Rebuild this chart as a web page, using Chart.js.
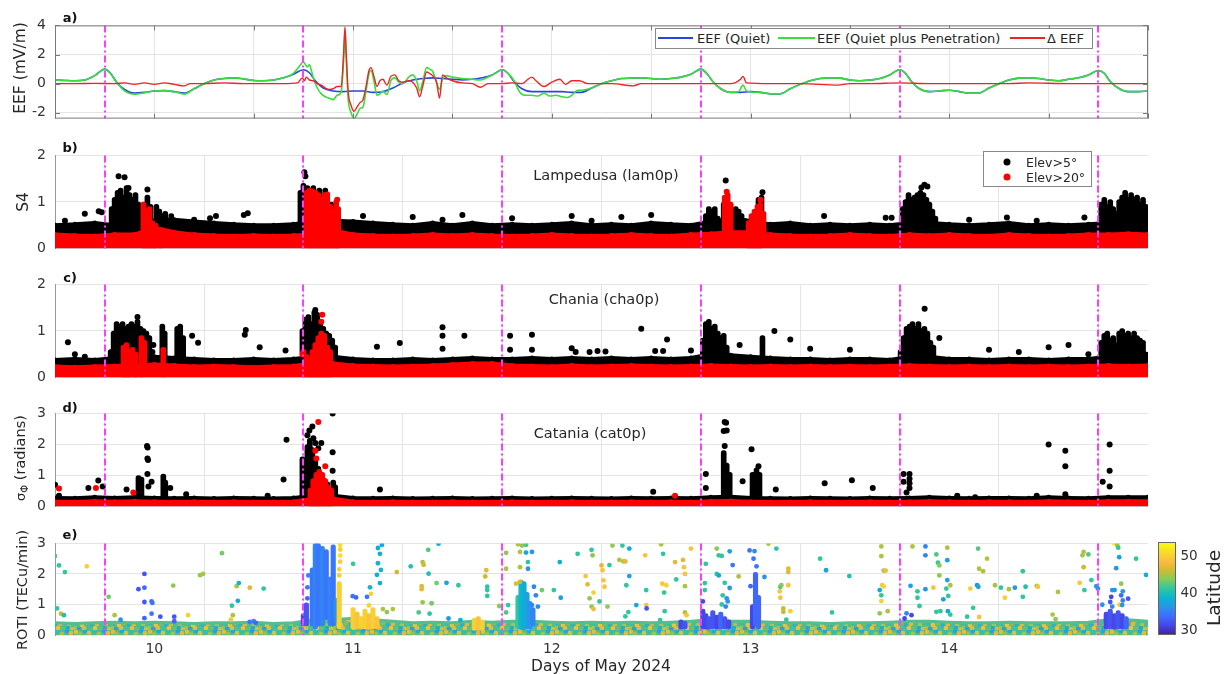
<!DOCTYPE html>
<html>
<head>
<meta charset="utf-8">
<script src="https://cdn.jsdelivr.net/npm/chart.js@4.4.1/dist/chart.umd.min.js"></script>
<style>
body { margin: 0; background: #fff; font-family: "DejaVu Sans", sans-serif; }
#wrap { position: relative; width: 1231px; height: 674px; overflow: hidden; }
#wrap canvas { position: absolute; left: 0; }
.lbl { position: absolute; white-space: nowrap; color: #262626; transform: translate(-50%, -50%); z-index: 5; }
.left { transform: translate(0, -50%); }
.rot { transform: translate(-50%, -50%) rotate(-90deg); }
.box { position: absolute; border: 1px solid #888; background: #fff; z-index: 4; }
.swatch { position: absolute; height: 0; border-top: 2px solid; z-index: 5; }
.dot { position: absolute; width: 7px; height: 7px; border-radius: 50%; transform: translate(-50%, -50%); z-index: 5; }
</style>
</head>
<body>
<div id="wrap"></div>
<script>
// ---------- shared axis data ----------
const gridDays = [9.5, 10, 10.5, 11, 11.5, 12, 12.5, 13, 13.5, 14, 14.5, 15];
const labelDays = [10, 11, 12, 13, 14];
const stormDays = [9.75, 10.75, 11.75, 12.75, 13.75, 14.75];
const bandDays = [9.5,9.6,9.7,9.8,9.9,10.0,10.1,10.2,10.3,10.4,10.5,10.6,10.7,10.8,10.9,11.0,11.1,11.2,11.3,11.4,11.5,11.6,11.7,11.8,11.9,12.0,12.1,12.2,12.3,12.4,12.5,12.6,12.7,12.8,12.9,13.0,13.1,13.2,13.3,13.4,13.5,13.6,13.7,13.8,13.9,14.0,14.1,14.2,14.3,14.4,14.5,14.6,14.7,14.8,14.9,15.0];

// ---------- panel a: EEF ----------
const eefTicks = [-2, 0, 2, 4];
const quietDays = [9.5,9.55,9.6,9.65,9.7,9.75,9.78,9.81,9.85,9.9,9.95,10,10.05,10.1,10.15,10.2,10.25,10.3,10.35,10.4,10.45,10.5,10.55,10.6,10.65,10.7,10.75,10.78,10.81,10.85,10.9,10.95,11,11.05,11.1,11.15,11.2,11.25,11.3,11.35,11.4,11.45,11.5,11.55,11.6,11.65,11.7,11.75,11.78,11.81,11.85,11.9,11.95,12,12.05,12.1,12.15,12.2,12.25,12.3,12.35,12.4,12.45,12.5,12.55,12.6,12.65,12.7,12.75,12.78,12.81,12.85,12.9,12.95,13,13.05,13.1,13.15,13.2,13.25,13.3,13.35,13.4,13.45,13.5,13.55,13.6,13.65,13.7,13.75,13.78,13.81,13.85,13.9,13.95,14,14.05,14.1,14.15,14.2,14.25,14.3,14.35,14.4,14.45,14.5,14.55,14.6,14.65,14.7,14.75,14.78,14.81,14.85,14.9,14.95,15];
const quietEEF = [0.25,0.22,0.2,0.25,0.55,1.0,0.7,0.1,-0.4,-0.65,-0.6,-0.5,-0.48,-0.55,-0.65,-0.35,0,0.25,0.35,0.4,0.32,0.22,0.2,0.25,0.4,0.65,0.95,0.75,0.2,-0.3,-0.5,-0.55,-0.5,-0.5,-0.6,-0.55,-0.3,0.05,0.25,0.35,0.4,0.35,0.3,0.25,0.3,0.4,0.6,0.95,0.7,0.15,-0.35,-0.55,-0.55,-0.55,-0.55,-0.6,-0.6,-0.3,0,0.2,0.35,0.38,0.4,0.35,0.3,0.35,0.45,0.65,1.0,0.7,0.15,-0.35,-0.6,-0.6,-0.55,-0.6,-0.7,-0.7,-0.35,-0.05,0.2,0.35,0.4,0.38,0.25,0.2,0.25,0.35,0.6,0.95,0.7,0.15,-0.35,-0.55,-0.5,-0.45,-0.55,-0.65,-0.65,-0.3,0,0.25,0.38,0.4,0.35,0.25,0.2,0.3,0.4,0.6,0.9,0.7,0.15,-0.3,-0.55,-0.55,-0.5];
const ppefDays = [9.5,9.55,9.6,9.65,9.7,9.75,9.78,9.81,9.85,9.9,9.95,10,10.05,10.1,10.15,10.2,10.25,10.3,10.35,10.4,10.45,10.5,10.55,10.6,10.65,10.7,10.73,10.75,10.76,10.77,10.78,10.79,10.8,10.82,10.84,10.86,10.88,10.9,10.92,10.94,10.952,10.959,10.966,10.975,10.99,11.005,11.02,11.035,11.05,11.065,11.08,11.09,11.105,11.12,11.135,11.15,11.17,11.19,11.21,11.23,11.25,11.28,11.3,11.32,11.335,11.35,11.37,11.385,11.4,11.42,11.435,11.45,11.47,11.5,11.55,11.6,11.64,11.68,11.72,11.75,11.78,11.81,11.84,11.87,11.9,11.93,11.96,11.99,12.02,12.05,12.08,12.1,12.13,12.15,12.2,12.25,12.3,12.35,12.4,12.45,12.5,12.55,12.6,12.65,12.7,12.75,12.78,12.81,12.85,12.9,12.94,12.962,12.98,13.05,13.1,13.15,13.2,13.25,13.3,13.35,13.4,13.45,13.5,13.55,13.6,13.65,13.7,13.75,13.78,13.81,13.85,13.9,13.95,14,14.05,14.1,14.15,14.2,14.25,14.3,14.35,14.4,14.45,14.5,14.55,14.6,14.65,14.7,14.75,14.78,14.81,14.85,14.9,14.95,15];
const ppefEEF = [0.25,0.22,0.2,0.25,0.55,1.0,0.7,0.1,-0.5,-0.72,-0.62,-0.5,-0.48,-0.55,-0.72,-0.35,0,0.25,0.35,0.4,0.32,0.22,0.2,0.25,0.4,0.7,1.2,1.5,1.3,1.15,1.3,0.9,0.4,-0.3,-0.7,-0.9,-1.0,-1.1,-0.8,-0.6,1.5,3.4,1.5,-1.0,-2.0,-2.4,-2.1,-1.7,-1.6,-0.5,0.7,0.9,0.2,-0.8,-0.7,-0.5,-0.75,0.2,0.4,0.1,0,0.45,0.6,0.2,-0.5,0.1,1.1,1.0,0.85,0.1,-0.4,0.3,0.55,0.45,0.35,0.3,0.25,0.45,0.75,0.95,0.7,0.2,-0.6,-0.8,-0.8,-0.85,-0.65,-0.85,-0.8,-0.9,-0.95,-0.8,-0.45,-0.45,-0.3,0,0.2,0.35,0.38,0.4,0.35,0.3,0.35,0.45,0.65,1.0,0.7,0.15,-0.35,-0.6,-0.55,-0.1,-0.5,-0.6,-0.7,-0.7,-0.35,-0.05,0.2,0.35,0.4,0.38,0.25,0.2,0.25,0.35,0.6,0.95,0.7,0.15,-0.35,-0.55,-0.5,-0.45,-0.55,-0.65,-0.65,-0.3,0,0.25,0.38,0.4,0.35,0.25,0.2,0.3,0.4,0.6,0.9,0.7,0.15,-0.3,-0.55,-0.55,-0.5];
const deltaDays = [9.5,9.6,9.7,9.8,9.85,9.9,9.95,10,10.05,10.1,10.15,10.18,10.25,10.35,10.45,10.55,10.65,10.72,10.745,10.755,10.765,10.78,10.8,10.82,10.84,10.86,10.88,10.9,10.92,10.94,10.952,10.959,10.966,10.975,10.99,11.005,11.02,11.035,11.05,11.065,11.08,11.09,11.105,11.12,11.135,11.15,11.17,11.19,11.21,11.23,11.25,11.28,11.3,11.32,11.335,11.35,11.37,11.385,11.4,11.42,11.435,11.45,11.47,11.5,11.55,11.6,11.64,11.68,11.75,11.8,11.85,11.88,11.9,11.92,11.96,12,12.04,12.07,12.1,12.14,12.18,12.3,12.41,12.45,12.6,12.75,12.9,12.95,12.962,12.98,13.1,13.25,13.44,13.5,13.6,13.75,13.9,14.1,14.3,14.4,14.6,14.75,15];
const deltaEEF = [0,0,0.02,0,0.05,-0.05,0.05,-0.05,0.05,-0.05,-0.15,0,0,0.05,0,0,0,0.05,0.4,0.2,0.45,0.25,0.2,0,-0.1,-0.3,-0.4,-0.35,-0.2,-0.2,2.0,3.9,2.0,-0.5,-1.5,-1.9,-1.6,-1.3,-1.1,-0.2,0.9,1.1,0.5,-0.2,0.2,0.3,-0.1,0.5,0.6,0.2,0.1,0.2,0.1,-0.3,-0.9,-0.2,0.8,0.7,0.55,0.1,-1.0,0.6,0.4,0.2,0.05,0,-0.25,0,0,0.05,0,0.3,0.45,0.2,-0.2,0.1,0.3,-0.05,0.2,0.2,0,0,-0.15,0,0,0,0,0.3,0.5,0.05,0,0,-0.1,0,0,0.05,0,0,0,0.05,0,0,0];

// ---------- panel b: S4 Lampedusa ----------
const s4Ticks = [0, 1, 2];
const lamBandHi = [0.5,0.52,0.55,0.5,0.55,0.6,0.62,0.58,0.55,0.52,0.5,0.5,0.52,0.6,0.6,0.58,0.55,0.52,0.5,0.55,0.5,0.55,0.5,0.52,0.5,0.52,0.55,0.5,0.52,0.5,0.55,0.52,0.5,0.58,0.62,0.6,0.52,0.55,0.5,0.52,0.5,0.52,0.5,0.55,0.55,0.52,0.5,0.52,0.55,0.5,0.52,0.5,0.52,0.55,0.55,0.55];
const lamRedHi = [0.3,0.28,0.27,0.3,0.3,0.45,0.35,0.3,0.28,0.27,0.28,0.27,0.28,0.3,0.4,0.3,0.28,0.27,0.28,0.3,0.28,0.3,0.28,0.27,0.28,0.3,0.28,0.27,0.28,0.3,0.28,0.27,0.3,0.32,0.35,0.35,0.3,0.28,0.27,0.28,0.3,0.28,0.27,0.3,0.28,0.3,0.28,0.27,0.3,0.28,0.27,0.28,0.3,0.3,0.32,0.3];
const lamStreaks = [[9.785,0.3,0.9],[9.8,0.3,1.1],[9.815,0.3,1.25],[9.83,0.35,1.3],[9.845,0.3,1.15],[9.86,0.3,1.35],[9.875,0.3,1.2],[9.89,0.35,1.1],[9.905,0.3,1.2],[9.92,0.3,1.0],[9.935,0.3,0.9],[9.965,0.3,1.15],[9.98,0.5,0.95],[10.01,0.3,0.95],[10.025,0.3,0.85],[10.04,0.3,0.75],[10.055,0.3,0.8],[10.07,0.3,0.65],[10.085,0.3,0.75],[10.1,0.3,0.6],[10.735,0.3,1.25],[10.75,0.3,1.4],[10.77,0.3,1.35],[10.8,0.3,1.35],[10.83,0.3,1.3],[10.86,0.3,1.3],[10.89,0.3,1.0],[10.905,0.3,0.95],[10.92,0.3,0.85],[12.775,0.3,0.75],[12.79,0.3,0.9],[12.805,0.3,0.85],[12.82,0.3,0.9],[12.835,0.3,0.7],[12.865,0.3,1.0],[12.925,0.3,0.9],[12.94,0.3,0.85],[12.955,0.3,0.75],[12.97,0.3,0.65],[13.04,0.3,1.1],[13.055,0.3,1.15],[13.765,0.3,0.9],[13.78,0.3,1.05],[13.795,0.3,1.2],[13.81,0.3,1.1],[13.825,0.3,1.15],[13.84,0.3,1.2],[13.855,0.3,1.25],[13.87,0.3,1.2],[13.885,0.3,1.1],[13.9,0.3,1.0],[13.915,0.3,0.85],[13.93,0.3,0.7],[14.765,0.3,1.0],[14.78,0.3,1.1],[14.795,0.3,0.95],[14.81,0.3,1.05],[14.825,0.3,0.9],[14.84,0.3,0.8],[14.855,0.3,1.05],[14.87,0.3,1.15],[14.885,0.3,1.25],[14.9,0.3,1.1],[14.915,0.3,1.2],[14.93,0.3,1.1],[14.945,0.3,1.15],[14.96,0.3,1.0],[14.975,0.3,1.1],[14.99,0.3,0.95]];
const lamDots = [[9.65,0.75],[9.72,0.8],[9.735,0.78],[9.82,1.55],[9.85,1.53],[9.87,1.3],[9.965,1.27],[10.28,0.65],[10.31,0.7],[10.45,0.72],[10.47,0.76],[10.755,1.64],[10.76,1.55],[12.875,1.46],[13.06,1.21],[13.875,1.37],[13.89,1.33],[13.86,1.31],[11.05,0.7],[11.3,0.68],[11.55,0.72],[11.8,0.65],[12.1,0.7],[12.35,0.68],[12.5,0.72],[13.37,0.7],[13.68,0.66],[13.71,0.66],[14.29,0.67],[14.44,0.6],[14.68,0.67],[9.55,0.6],[10.2,0.62],[11.45,0.62],[12.2,0.6],[14.1,0.62]];
const lamRedStreaks = [[9.945,0,1.0],[9.96,0,0.85],[9.975,0,0.9],[9.99,0,0.6],[10.005,0,0.55],[10.03,0,0.45],[10.765,0,1.25],[10.78,0,1.3],[10.795,0,1.28],[10.81,0,1.25],[10.825,0,1.2],[10.84,0,1.1],[10.855,0,1.2],[10.87,0,1.22],[10.885,0,0.95],[10.9,0,0.85],[10.915,0,1.05],[10.925,0,0.9],[12.87,0.05,1.15],[12.885,0.05,1.2],[12.9,0.1,1.0],[12.99,0,0.6],[13.005,0,0.75],[13.02,0,0.85],[13.035,0,0.95],[13.05,0,1.0],[13.065,0.2,0.8]];
const lamRedDots = [[10.92,1.05],[12.88,1.22],[13.05,1.05]];

// ---------- panel c: S4 Chania ----------
const chaBandHi = [0.38,0.4,0.38,0.42,0.45,0.45,0.42,0.4,0.38,0.38,0.4,0.38,0.4,0.45,0.45,0.4,0.38,0.38,0.4,0.38,0.4,0.42,0.4,0.4,0.42,0.4,0.42,0.4,0.42,0.4,0.42,0.4,0.42,0.5,0.48,0.45,0.42,0.4,0.4,0.38,0.4,0.4,0.38,0.45,0.45,0.4,0.4,0.38,0.4,0.4,0.38,0.4,0.4,0.45,0.45,0.45];
const chaRedHi = [0.24,0.22,0.24,0.25,0.26,0.28,0.26,0.24,0.25,0.24,0.22,0.24,0.25,0.3,0.3,0.26,0.25,0.24,0.25,0.26,0.28,0.3,0.3,0.26,0.25,0.24,0.26,0.24,0.25,0.26,0.25,0.24,0.25,0.26,0.25,0.24,0.25,0.24,0.25,0.24,0.25,0.24,0.25,0.26,0.25,0.24,0.25,0.24,0.25,0.24,0.25,0.24,0.25,0.26,0.25,0.26];
const chaStreaks = [[9.78,0.25,0.6],[9.795,0.25,1.0],[9.81,0.25,1.2],[9.825,0.25,1.15],[9.84,0.25,1.2],[9.855,0.25,1.1],[9.87,0.25,1.15],[9.885,0.25,1.2],[9.9,0.25,1.15],[9.915,0.25,1.25],[9.93,0.25,1.1],[9.945,0.25,1.05],[9.96,0.25,1.0],[9.975,0.25,0.9],[10.04,0.25,1.15],[10.052,0.3,1.0],[10.115,0.25,1.1],[10.13,0.25,1.15],[10.145,0.3,0.9],[10.745,0.5,1.05],[10.76,0.3,1.3],[10.775,0.3,1.35],[10.79,0.3,1.2],[10.805,0.3,1.45],[10.82,0.3,1.4],[10.835,0.3,1.2],[10.85,0.3,1.1],[10.865,0.3,1.0],[10.88,0.3,0.95],[10.895,0.3,0.85],[10.91,0.3,0.7],[12.76,0.3,0.85],[12.775,0.3,1.2],[12.79,0.3,1.25],[12.805,0.3,1.1],[12.82,0.3,1.15],[12.835,0.3,1.0],[12.85,0.3,0.9],[12.865,0.3,0.95],[12.88,0.3,0.7],[13.06,0.3,0.9],[13.755,0.3,0.6],[13.77,0.3,0.9],[13.785,0.3,1.1],[13.8,0.3,1.15],[13.815,0.3,1.2],[13.83,0.3,1.1],[13.845,0.3,1.2],[13.86,0.3,1.05],[13.875,0.3,1.1],[13.89,0.3,1.0],[13.905,0.3,0.8],[13.92,0.3,0.7],[14.765,0.3,0.8],[14.78,0.3,0.95],[14.795,0.3,1.0],[14.81,0.3,0.85],[14.825,0.3,0.9],[14.84,0.3,0.75],[14.855,0.3,1.0],[14.87,0.3,1.05],[14.885,0.3,0.95],[14.9,0.3,1.0],[14.915,0.3,0.9],[14.93,0.3,1.0],[14.945,0.3,0.9],[14.96,0.3,0.85],[14.975,0.3,0.8],[14.99,0.3,0.55]];
const chaDots = [[9.565,0.76],[9.6,0.5],[9.65,0.45],[9.915,1.3],[9.995,0.7],[9.99,0.55],[10.19,0.9],[10.22,0.75],[10.46,1.02],[10.455,0.92],[10.53,0.65],[10.66,0.58],[10.81,1.45],[11.12,0.66],[11.235,0.74],[11.45,1.08],[11.45,0.9],[11.45,0.62],[11.56,0.9],[11.79,0.9],[11.9,0.92],[11.79,0.6],[11.9,0.6],[12.1,0.63],[12.12,0.55],[12.19,0.55],[12.23,0.57],[12.27,0.56],[12.45,1.05],[12.58,0.82],[12.52,0.57],[12.56,0.57],[12.7,0.58],[12.945,0.7],[13.12,1.0],[13.2,0.82],[13.876,1.48],[13.95,0.85],[13.3,0.62],[13.5,0.6],[14.2,0.6],[14.35,0.55],[14.5,0.65],[14.6,0.7],[14.7,0.5]];
const chaRedStreaks = [[9.845,0,0.7],[9.86,0,0.75],[9.875,0,0.6],[9.89,0.2,0.65],[9.905,0,0.55],[9.935,0,0.9],[9.95,0.3,0.8],[10.045,0,0.65],[10.765,0,0.5],[10.78,0,0.45],[10.795,0,0.6],[10.81,0,0.75],[10.825,0,0.9],[10.84,0,1.0],[10.855,0,0.95],[10.87,0,0.7],[10.885,0,0.6]];
const chaRedDots = [[10.75,0.55],[10.745,0.5],[10.845,1.35],[10.84,1.2]];

// ---------- panel d: sigma phi Catania ----------
const sigTicks = [0, 1, 2, 3];
const catBandHi = [0.28,0.27,0.3,0.28,0.3,0.28,0.27,0.28,0.26,0.28,0.27,0.26,0.28,0.35,0.35,0.28,0.27,0.28,0.26,0.27,0.28,0.26,0.27,0.28,0.26,0.27,0.28,0.27,0.26,0.28,0.27,0.28,0.27,0.3,0.32,0.28,0.27,0.26,0.28,0.27,0.26,0.28,0.27,0.28,0.3,0.28,0.27,0.28,0.28,0.27,0.3,0.28,0.27,0.3,0.3,0.3];
const catRedHi = [0.16,0.15,0.17,0.16,0.17,0.16,0.15,0.16,0.15,0.16,0.15,0.15,0.16,0.25,0.25,0.16,0.15,0.16,0.15,0.15,0.16,0.15,0.15,0.16,0.15,0.15,0.16,0.15,0.15,0.16,0.15,0.16,0.15,0.17,0.18,0.16,0.15,0.15,0.16,0.15,0.15,0.16,0.15,0.16,0.17,0.16,0.15,0.16,0.16,0.15,0.17,0.16,0.15,0.17,0.17,0.17];
const catStreaks = [[9.92,0.2,1.0],[9.935,0.2,0.95],[10.045,0.2,1.05],[10.055,0.2,0.85],[10.745,0.2,1.6],[10.757,0.3,1.3],[10.77,0.2,2.0],[10.782,0.3,2.2],[10.795,0.3,1.9],[10.81,0.3,1.6],[10.825,0.3,1.3],[10.84,0.3,1.1],[10.855,0.3,0.9],[10.87,0.3,0.8],[10.9,0.2,0.85],[10.91,0.2,0.7],[12.865,0.2,1.8],[12.88,0.2,1.4],[12.895,0.2,1.1],[13.01,0.2,1.1],[13.03,0.2,1.25],[13.045,0.2,1.1]];
const catDots = [[9.5,0.7],[9.52,0.35],[9.668,0.6],[9.718,0.84],[9.74,0.65],[9.86,0.55],[9.963,1.95],[9.966,1.9],[9.965,1.55],[9.968,1.5],[9.965,1.05],[9.97,0.65],[9.986,0.8],[10.08,0.6],[10.16,0.4],[10.57,0.35],[10.65,0.87],[10.665,2.15],[10.77,2.3],[10.78,2.45],[10.795,2.58],[10.8,2.2],[10.81,2.05],[10.825,1.88],[10.84,2.05],[10.897,3.0],[10.897,1.75],[10.897,1.15],[11.135,0.55],[12.51,0.48],[12.775,1.05],[12.775,0.6],[12.87,2.72],[12.877,2.7],[12.865,2.43],[12.88,2.45],[12.87,1.95],[12.96,0.82],[13.005,1.85],[13.04,1.3],[13.127,0.55],[13.373,0.75],[13.51,0.85],[13.615,0.6],[13.77,1.05],[13.77,0.8],[13.8,1.05],[13.8,0.9],[13.8,0.75],[13.8,0.6],[13.785,0.45],[14.04,0.35],[14.13,0.3],[14.44,0.35],[14.5,2.0],[14.584,1.8],[14.584,1.3],[14.584,0.4],[14.772,0.8],[14.807,2.0],[14.807,1.15],[14.807,0.65]];
const catRedStreaks = [[10.785,0,0.6],[10.8,0,0.9],[10.815,0,1.1],[10.83,0,1.2],[10.845,0,1.1],[10.86,0,0.9],[10.875,0,0.7],[10.89,0,0.6]];
const catRedDots = [[9.52,0.58],[9.706,0.6],[9.894,0.45],[10.825,2.72],[10.81,1.8],[10.815,1.55],[10.86,1.3],[12.62,0.35]];

// ---------- panel e: ROTI ----------
const rotiTicks = [0, 1, 2, 3];
const latTicks = [30, 40, 50];
const latMin = 28.6, latMax = 53.5;
const rotiBandHi = [0.4,0.38,0.4,0.42,0.4,0.42,0.4,0.38,0.4,0.4,0.42,0.38,0.4,0.5,0.5,0.55,0.5,0.45,0.4,0.42,0.4,0.45,0.42,0.45,0.45,0.42,0.4,0.42,0.4,0.42,0.4,0.42,0.45,0.5,0.45,0.45,0.42,0.4,0.4,0.38,0.4,0.4,0.42,0.45,0.45,0.42,0.4,0.4,0.42,0.4,0.4,0.4,0.42,0.5,0.5,0.45];
// [day, lo, hi, latitude]
const rotiStreaks = [[10.75,0.3,0.7,31],[10.765,0.3,1.05,32],[10.795,0.3,2.2,34],[10.81,0.2,3.0,35],[10.825,0.3,3.0,34],[10.845,0.3,2.9,35],[10.865,0.5,2.8,34],[10.885,0.3,1.9,35],[10.9,0.3,2.95,34],[10.915,0.4,1.2,36],[10.93,0.2,1.75,50],[11.0,0.2,0.9,50],[11.02,0.2,0.75,49],[11.04,0.2,0.6,50],[11.06,0.2,0.85,50],[11.08,0.2,0.7,49],[11.1,0.2,0.9,50],[11.12,0.2,0.6,49],[11.61,0.15,0.55,50],[11.63,0.15,0.6,49],[11.65,0.15,0.5,50],[11.83,0.2,1.3,41],[11.845,0.2,1.8,39],[11.86,0.2,1.75,38],[11.875,0.2,1.4,37],[11.89,0.2,1.1,36],[11.905,0.3,0.9,35],[12.65,0.2,0.5,31],[12.67,0.2,0.45,32],[12.76,0.2,0.85,31],[12.775,0.2,0.7,31],[12.79,0.2,0.6,32],[12.81,0.2,0.8,32],[12.83,0.2,0.65,31],[12.85,0.2,0.75,33],[12.87,0.2,0.6,32],[12.89,0.2,0.5,31],[13.01,0.2,1.0,31],[13.025,0.3,2.05,33],[13.04,0.2,1.3,33],[14.79,0.2,0.75,31],[14.81,0.2,0.85,32],[14.83,0.2,0.7,31],[14.85,0.2,0.8,32],[14.87,0.2,0.7,31],[14.89,0.2,0.6,33]];
// [day, ROTI, latitude]
const rotiPoints = [[9.5,2.59,42],[9.52,2.28,41],[9.55,2.06,41],[9.66,2.25,50],[9.51,0.87,41],[9.53,0.7,46],[9.545,0.65,40],[9.77,1.25,43],[9.8,0.65,45],[9.83,0.5,36],[9.92,1.5,32],[9.95,2.0,32],[9.95,1.55,33],[9.95,1.08,32],[9.986,1.1,33],[9.99,1.05,34],[9.986,0.7,34],[9.95,0.55,33],[10.03,0.6,32],[10.1,0.6,32],[10.1,0.45,33],[10.095,1.62,44],[10.17,0.65,50],[10.23,1.96,44],[10.245,2.0,45],[10.34,2.68,43],[10.39,0.96,41],[10.395,0.65,45],[10.385,0.5,49],[10.414,1.6,45],[10.425,1.7,39],[10.42,1.12,38],[10.48,1.55,47],[10.55,1.52,41],[10.48,0.43,34],[10.5,0.45,35],[10.51,0.4,33],[10.775,1.95,35],[10.77,1.56,34],[10.77,1.2,33],[10.93,1.95,50],[10.93,2.15,50],[10.935,2.4,50],[10.935,2.6,51],[10.935,2.8,50],[10.935,2.95,51],[10.998,1.27,34],[11.015,1.23,33],[11.0,2.33,41],[11.07,1.25,34],[11.085,1.56,39],[11.09,1.35,50],[11.08,0.97,50],[11.125,2.85,38],[11.145,2.95,38],[11.135,2.66,38],[11.125,2.35,39],[11.12,1.97,38],[11.135,1.7,38],[11.14,2.13,39],[11.22,2.06,46],[11.29,2.25,40],[11.15,0.85,45],[11.17,0.75,44],[11.2,0.85,45],[11.35,2.39,45],[11.355,2.3,46],[11.345,1.6,47],[11.345,1.5,47],[11.378,2.79,42],[11.43,2.99,38],[11.38,2.01,40],[11.42,1.7,43],[11.47,1.71,37],[11.53,1.63,41],[11.35,1.07,44],[11.395,1.04,43],[11.33,0.74,42],[11.385,0.7,41],[11.48,0.54,36],[11.54,0.49,38],[11.67,2.12,47],[11.665,1.92,46],[11.675,1.58,41],[11.675,1.47,41],[11.675,1.28,41],[11.735,0.95,44],[11.77,2.69,44],[11.77,2.17,45],[11.78,0.98,41],[11.77,0.74,42],[11.83,2.97,45],[11.85,2.93,44],[11.87,2.95,42],[11.87,2.7,37],[11.9,2.72,36],[11.84,2.72,45],[11.88,2.39,41],[11.84,2.22,45],[11.88,2.17,36],[11.82,1.68,47],[11.84,1.74,46],[11.91,1.58,35],[11.92,1.3,35],[11.93,0.93,35],[11.9,0.98,35],[11.95,1.47,43],[12.01,1.47,41],[12.04,2.39,38],[12.045,1.22,37],[12.13,2.66,41],[12.17,1.93,49],[12.18,1.66,47],[12.2,2.79,41],[12.205,2.61,44],[12.19,1.2,44],[12.21,1.39,50],[12.2,0.93,44],[12.21,0.85,48],[12.24,1.1,41],[12.25,2.28,47],[12.255,2.12,49],[12.26,1.79,49],[12.265,1.58,49],[12.28,0.93,44],[12.29,2.29,41],[12.305,2.93,44],[12.34,2.46,45],[12.355,2.93,41],[12.36,2.41,45],[12.37,2.41,47],[12.39,2.83,38],[12.39,1.93,37],[12.375,1.63,41],[12.385,0.75,41],[12.37,0.61,41],[12.425,0.98,37],[12.47,2.61,49],[12.475,1.47,41],[12.475,0.98,49],[12.477,0.87,32],[12.55,2.97,45],[12.56,2.66,41],[12.556,1.68,49],[12.576,1.63,50],[12.565,1.39,41],[12.568,0.78,41],[12.545,0.49,41],[12.62,2.39,47],[12.66,2.46,47],[12.665,2.22,49],[12.67,2.0,49],[12.626,1.82,41],[12.67,1.6,45],[12.7,2.83,49],[12.67,0.74,45],[12.678,0.65,49],[12.76,1.1,31],[12.775,2.33,41],[12.77,1.7,41],[12.77,1.47,41],[12.83,2.83,44],[12.84,2.61,41],[12.855,2.59,41],[12.895,2.74,37],[12.91,2.29,34],[12.83,2.0,41],[12.84,1.95,37],[12.87,1.71,41],[12.895,1.54,36],[12.94,1.92,45],[12.86,1.3,41],[12.88,1.2,36],[12.885,1.1,36],[12.855,1.0,41],[12.875,0.93,35],[12.995,2.77,34],[13.02,2.75,35],[13.015,2.5,34],[13.03,2.25,34],[13.0,1.6,33],[13.07,1.9,36],[13.09,2.99,45],[13.13,2.83,41],[13.15,1.58,41],[13.155,1.63,44],[13.19,2.17,47],[13.19,2.06,47],[13.19,1.63,49],[13.165,0.87,46],[13.165,0.76,45],[13.18,0.5,41],[13.15,1.22,49],[13.147,1.43,49],[13.2,0.78,50],[13.35,2.5,41],[13.38,2.12,37],[13.41,0.74,41],[13.497,1.93,40],[13.658,2.9,45],[13.658,2.58,45],[13.67,2.11,45],[13.68,2.11,48],[13.663,1.63,49],[13.67,1.59,50],[13.65,1.47,38],[13.658,1.3,41],[13.658,1.11,50],[13.69,0.78,45],[13.65,0.71,44],[13.785,0.71,35],[13.775,0.54,31],[13.81,0.65,31],[13.815,2.9,45],[13.805,1.61,37],[13.84,1.43,41],[13.84,1.22,41],[13.85,0.95,41],[13.88,2.9,35],[13.88,2.61,35],[13.88,1.5,36],[13.92,1.55,49],[13.935,2.64,42],[13.943,2.37,41],[13.95,2.28,44],[13.95,1.95,44],[13.97,1.17,37],[13.99,2.86,45],[13.99,2.45,37],[13.99,1.8,37],[13.985,1.52,41],[13.995,1.28,41],[14.005,1.63,45],[13.935,0.76,41],[13.955,0.78,41],[13.993,0.78,37],[14.005,0.67,41],[14.106,1.52,50],[14.12,0.89,41],[14.14,1.63,36],[14.146,1.58,37],[14.145,2.83,42],[14.15,2.17,45],[14.17,2.09,45],[14.19,2.5,45],[14.09,0.6,41],[14.15,0.59,49],[14.23,1.63,45],[14.26,1.55,41],[14.3,1.5,45],[14.28,1.22,50],[14.33,1.55,36],[14.37,2.09,41],[14.37,1.25,41],[14.384,1.58,40],[14.44,1.61,45],[14.446,1.58,49],[14.547,1.41,45],[14.52,0.67,45],[14.535,0.52,44],[14.67,2.61,45],[14.676,2.72,45],[14.7,2.64,42],[14.676,2.22,46],[14.715,1.8,41],[14.656,1.71,49],[14.68,1.47,41],[14.74,1.6,37],[14.748,1.52,36],[14.77,0.99,36],[14.815,1.25,31],[14.81,1.08,32],[14.82,0.93,35],[14.865,1.3,33],[14.873,1.43,36],[14.873,1.13,35],[14.9,1.19,32],[14.857,0.99,50],[14.865,1.68,44],[14.82,1.47,36],[14.87,0.98,36],[14.83,3.0,52],[14.845,2.95,45],[14.85,2.86,41],[14.855,2.55,37],[14.84,2.19,36],[14.832,1.47,36],[14.94,2.5,41],[14.99,1.97,38]];

// ---------- helpers ----------
const FONT = 'DejaVu Sans';
const GRID = '#e4e4e4';
const PLOT_L = 55, PLOT_R = 1148;
const wrap = document.getElementById('wrap');

const parulaStops = [[0,[62,38,168]],[0.1,[71,71,235]],[0.2,[62,111,255]],[0.3,[39,150,235]],[0.4,[8,181,208]],[0.5,[49,198,159]],[0.6,[129,204,89]],[0.7,[209,187,48]],[0.8,[251,188,65]],[0.9,[245,222,38]],[1,[249,251,21]]];
function parula(lat) {
  let t = Math.min(1, Math.max(0, (lat - latMin) / (latMax - latMin)));
  for (let i = 1; i < parulaStops.length; i++) {
    const [t1, c1] = parulaStops[i], [t0, c0] = parulaStops[i - 1];
    if (t <= t1) {
      const f = (t - t0) / (t1 - t0);
      return 'rgb(' + c0.map((c, k) => Math.round(c + (c1[k] - c) * f)).join(',') + ')';
    }
  }
}

function xy(days, vals) { return days.map((d, i) => ({ x: d, y: vals[i] })); }
function pairs(list) { return list.map(p => ({ x: p[0], y: p[1] })); }
function bars(list) { return list.map(s => ({ x: s[0], y: [s[1], s[2]] })); }

const stormLines = {
  id: 'stormLines',
  afterDatasetsDraw(chart) {
    const { ctx, chartArea: a, scales: { x } } = chart;
    ctx.save();
    ctx.strokeStyle = '#ff3cff';
    ctx.lineWidth = 2;
    ctx.setLineDash([7, 3, 2, 3]);
    stormDays.forEach(d => {
      const px = Math.round(x.getPixelForValue(d));
      ctx.beginPath(); ctx.moveTo(px, a.top); ctx.lineTo(px, a.bottom); ctx.stroke();
    });
    ctx.restore();
  }
};

const frame = {
  id: 'frame',
  afterDraw(chart) {
    const { ctx, chartArea: a, scales: { x, y } } = chart;
    ctx.save();
    ctx.strokeStyle = '#7a7a7a';
    ctx.lineWidth = 1;
    ctx.strokeRect(a.left + 0.5, a.top + 0.5, a.width - 1, a.height - 1);
    ctx.beginPath();
    gridDays.forEach(d => {
      const px = Math.round(x.getPixelForValue(d)) + 0.5;
      ctx.moveTo(px, a.top); ctx.lineTo(px, a.top + 5);
      ctx.moveTo(px, a.bottom); ctx.lineTo(px, a.bottom - 5);
    });
    eefTicks.forEach(v => {
      const py = Math.round(y.getPixelForValue(v)) + 0.5;
      ctx.moveTo(a.left, py); ctx.lineTo(a.left + 5, py);
      ctx.moveTo(a.right, py); ctx.lineTo(a.right - 5, py);
    });
    ctx.stroke();
    ctx.restore();
  }
};

function chartConfig(yMin, yMax, yTicks, datasets, opt) {
  const xH = opt.xLabels ? 24 : 0;
  return {
    type: 'scatter',
    data: { datasets },
    options: {
      responsive: false, maintainAspectRatio: false, animation: false, devicePixelRatio: 1, events: [],
      layout: { padding: { left: 0, right: 1231 - PLOT_R, top: 10, bottom: 4 } },
      plugins: { legend: { display: false }, tooltip: { enabled: false } },
      scales: {
        x: {
          type: 'linear', min: 9.5, max: 15, offset: false,
          afterBuildTicks: s => { s.ticks = gridDays.map(v => ({ value: v })); },
          afterFit: s => { s.height = xH; },
          grid: { color: GRID, drawTicks: false },
          border: { display: false },
          ticks: {
            display: !!opt.xLabels, padding: 6, color: '#333', autoSkip: false, maxRotation: 0,
            font: { family: FONT, size: 14 },
            callback: v => labelDays.includes(v) ? String(v) : ''
          }
        },
        y: {
          type: 'linear', min: yMin, max: yMax,
          afterBuildTicks: s => { s.ticks = yTicks.map(v => ({ value: v })); },
          afterFit: s => { s.width = PLOT_L; },
          grid: { color: GRID, drawTicks: false },
          border: { display: !opt.box, color: '#999' },
          ticks: { padding: 9, color: '#333', font: { family: FONT, size: 14 }, callback: v => String(v) }
        }
      }
    },
    plugins: opt.box ? [stormLines, frame] : [stormLines]
  };
}

// builds the chart, then measures where Chart.js put the plot area and rebuilds
// once so the plot area lands exactly on plotTop .. plotTop+plotH
function makeChart(plotTop, plotH, yMin, yMax, yTicks, datasets, opt) {
  let h = plotH + 60, chart, cv;
  for (let pass = 0; pass < 2; pass++) {
    if (chart) { chart.destroy(); cv.remove(); }
    cv = document.createElement('canvas');
    cv.width = 1231; cv.height = h;
    cv.style.width = '1231px'; cv.style.height = h + 'px';
    wrap.appendChild(cv);
    chart = new Chart(cv, chartConfig(yMin, yMax, yTicks, datasets, opt));
    const a = chart.chartArea;
    const topGap = a.top, bottomGap = h - a.bottom;
    cv.style.top = (plotTop - topGap) + 'px';
    const want = Math.round(topGap + plotH + bottomGap);
    if (want === h) break;
    h = want;
  }
  return chart;
}

function s4Datasets(bandHi, redHi, streaks, dots, redStreaks, redDots) {
  const bar = { type: 'bar', barThickness: 5, borderRadius: 2.5, borderSkipped: false, grouped: false };
  return [
    { type: 'line', data: xy(bandDays, bandHi), fill: 'origin', backgroundColor: '#000', borderColor: '#000', borderWidth: 4, pointRadius: 2.5, pointBackgroundColor: '#000', pointBorderWidth: 0, order: 6 },
    Object.assign({ data: bars(streaks), backgroundColor: '#000', order: 5 }, bar),
    { type: 'scatter', data: pairs(dots), pointRadius: 3, backgroundColor: '#000', borderWidth: 0, order: 4 },
    { type: 'line', data: xy(bandDays, redHi), fill: 'origin', backgroundColor: '#ff0000', borderColor: '#ff0000', borderWidth: 4, pointRadius: 2.5, pointBackgroundColor: '#ff0000', pointBorderWidth: 0, order: 3 },
    Object.assign({ data: bars(redStreaks), backgroundColor: '#ff0000', order: 2 }, bar),
    { type: 'scatter', data: pairs(redDots), pointRadius: 3, backgroundColor: '#ff0000', borderWidth: 0, order: 1 }
  ];
}

// texture for the dense low-ROTI band (mixed latitudes)
function bandPattern() {
  const c = document.createElement('canvas');
  c.width = 37; c.height = 13;
  const g = c.getContext('2d');
  g.fillStyle = '#58b98e'; g.fillRect(0, 0, 37, 13);
  [[2,2,'#e8bb3a'],[6,4,'#8cc553'],[11,1,'#1fa9d8'],[15,3,'#e0c040'],[20,2,'#35c0a5'],[25,4,'#9dc84c'],[30,1,'#2a9ee2'],[34,3,'#e9b934'],
   [3,7,'#35c0a5'],[8,8,'#f0c23a'],[13,6,'#7ec45a'],[18,8,'#28b4c8'],[23,7,'#e5b935'],[28,6,'#48bf95'],[32,8,'#a6c84a'],
   [1,11,'#9bc64f'],[5,12,'#2aa0e0'],[10,11,'#d8be44'],[16,12,'#45c09a'],[21,11,'#f2c035'],[26,12,'#6cc06a'],[31,11,'#1db0c8'],[35,12,'#cfbf45']].forEach(p => {
    g.fillStyle = p[2]; g.beginPath(); g.arc(p[0], p[1], 2.3, 0, Math.PI * 2); g.fill();
  });
  return g.createPattern(c, 'repeat');
}

// ---------- charts ----------
makeChart(25, 93, -2.4, 4, eefTicks, [
  { type: 'line', data: xy(quietDays, quietEEF), borderColor: '#2a44dd', borderWidth: 1.6, pointRadius: 0, cubicInterpolationMode: 'monotone', order: 3 },
  { type: 'line', data: xy(ppefDays, ppefEEF), borderColor: '#3ade3a', borderWidth: 1.6, pointRadius: 0, cubicInterpolationMode: 'monotone', order: 2 },
  { type: 'line', data: xy(deltaDays, deltaEEF), borderColor: '#ec2424', borderWidth: 1.4, pointRadius: 0, cubicInterpolationMode: 'monotone', order: 1 }
], { box: true });

makeChart(155, 93, 0, 2, s4Ticks, s4Datasets(lamBandHi, lamRedHi, lamStreaks, lamDots, lamRedStreaks, lamRedDots), {});
makeChart(284, 93, 0, 2, s4Ticks, s4Datasets(chaBandHi, chaRedHi, chaStreaks, chaDots, chaRedStreaks, chaRedDots), {});
makeChart(413, 93, 0, 3, sigTicks, s4Datasets(catBandHi, catRedHi, catStreaks, catDots, catRedStreaks, catRedDots), {});

makeChart(543, 92, 0, 3, rotiTicks, [
  { type: 'line', data: xy(bandDays, rotiBandHi), fill: 'origin', backgroundColor: bandPattern(), borderColor: '#56bd8e', borderWidth: 3, pointRadius: 0, order: 3 },
  { type: 'bar', data: bars(rotiStreaks), backgroundColor: rotiStreaks.map(s => parula(s[3])), barThickness: 4.5, borderRadius: 2.2, borderSkipped: false, grouped: false, order: 2 },
  { type: 'scatter', data: pairs(rotiPoints), backgroundColor: rotiPoints.map(p => parula(p[2])), pointRadius: 2.4, borderWidth: 0, order: 1 }
], { xLabels: true });

// ---------- text and legends ----------
function label(html, x, y, css, cls) {
  const d = document.createElement('div');
  d.className = 'lbl' + (cls ? ' ' + cls : '');
  d.innerHTML = html;
  d.style.left = x + 'px'; d.style.top = y + 'px';
  d.style.cssText += css;
  wrap.appendChild(d);
  return d;
}
[['a)', 17], ['b)', 147], ['c)', 277], ['d)', 407], ['e)', 534]].forEach(p => label(p[0], 70, p[1], 'font-weight:bold;font-size:13px;color:#111;'));
label('EEF (mV/m)', 20, 68, 'font-size:15.5px;', 'rot');
label('S4', 23, 202, 'font-size:15.5px;', 'rot');
label('<span style="font-size:13px">σ</span><sub style="font-size:10px">Φ</sub> (radians)', 21, 458, 'font-size:14.5px;', 'rot');
label('ROTI (TECu/min)', 22, 590, 'font-size:14.5px;', 'rot');
label('Latitude', 1213, 588, 'font-size:18.5px;', 'rot');
label('Lampedusa (lam0p)', 606, 175, 'font-size:14.5px;');
label('Chania (cha0p)', 604, 299, 'font-size:14.5px;');
label('Catania (cat0p)', 590, 433, 'font-size:14.5px;');
label('Days of May 2024', 601, 666, 'font-size:15.5px;');

// legend panel a
const boxA = document.createElement('div');
boxA.className = 'box';
boxA.style.cssText += 'left:655px;top:28px;width:436px;height:19px;';
wrap.appendChild(boxA);
[[658, 35, '#2a44dd', 697, 'EEF (Quiet)'], [778, 37, '#3ade3a', 817, 'EEF (Quiet plus Penetration)'], [1010, 35, '#ec2424', 1047, 'Δ EEF']].forEach(e => {
  const s = document.createElement('div');
  s.className = 'swatch';
  s.style.cssText += 'left:' + e[0] + 'px;top:37px;width:' + e[1] + 'px;border-color:' + e[2] + ';';
  wrap.appendChild(s);
  label(e[4], e[3], 38, 'font-size:13px;', 'left');
});

// legend panel b
const boxB = document.createElement('div');
boxB.className = 'box';
boxB.style.cssText += 'left:983px;top:151px;width:107px;height:34px;';
wrap.appendChild(boxB);
[[162, '#000', 'Elev>5°'], [177, '#ff0000', 'Elev>20°']].forEach(e => {
  const d = document.createElement('div');
  d.className = 'dot';
  d.style.cssText += 'left:1007px;top:' + e[0] + 'px;background:' + e[1] + ';';
  wrap.appendChild(d);
  label(e[2], 1026, e[0], 'font-size:12.5px;', 'left');
});

// colour bar
const cb = document.createElement('div');
cb.style.cssText = 'position:absolute;left:1158px;top:542px;width:16px;height:91px;border:1px solid #666;z-index:4;background:linear-gradient(to top,' +
  parulaStops.map(s => 'rgb(' + s[1].join(',') + ') ' + (s[0] * 100) + '%').join(',') + ');';
wrap.appendChild(cb);
latTicks.forEach(v => {
  const py = 634 - (v - latMin) / (latMax - latMin) * 92;
  label(String(v), 1189, py, 'font-size:13.5px;color:#333;');
});
</script>
</body>
</html>
